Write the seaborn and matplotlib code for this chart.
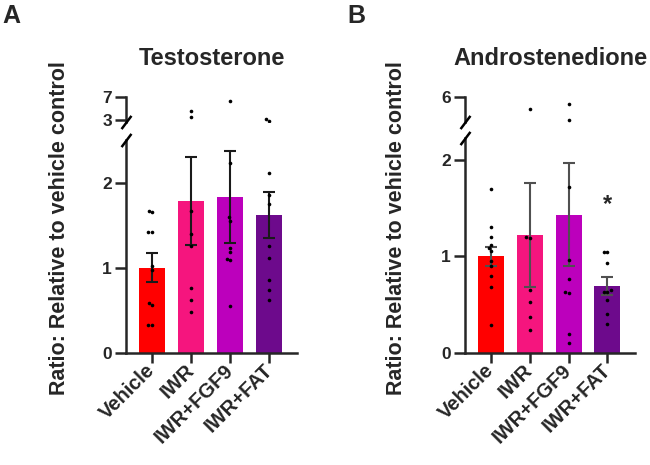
import numpy as np
import pandas as pd
import matplotlib
matplotlib.use("Agg")
import matplotlib.pyplot as plt
import seaborn as sns

# ---------------- data ----------------
groups = ["Vehicle", "IWR", "IWR+FGF9", "IWR+FAT"]
colors = ["#FF0000", "#F5157E", "#BC00BC", "#6D0A8C"]

# Testosterone (individual points, bar means, SEM)
t_vehicle = [1.67, 1.655, 1.415, 1.42, 1.02, 0.97, 0.56, 0.58, 0.32, 0.33]
t_iwr = [4.64, 3.59, 1.67, 1.39, 1.25, 0.76, 0.62, 0.48]
t_fgf9 = [6.41, 2.23, 1.59, 1.55, 1.23, 1.18, 1.10, 1.09, 0.545]
t_fat = [3.23, 2.88, 2.11, 1.85, 1.745, 1.255, 1.11, 0.85, 0.74, 0.62]
t_mean = [1.00, 1.78, 1.83, 1.62]
t_sem = [0.17, 0.52, 0.545, 0.27]

# Androstenedione
a_vehicle = [1.70, 1.305, 1.195, 1.12, 1.08, 1.05, 0.95, 0.90, 0.79, 0.68, 0.29]
a_iwr = [4.52, 1.185, 1.195, 0.65, 0.53, 0.37, 0.24]
a_fgf9 = [5.18, 3.25, 1.72, 0.96, 0.767, 0.615, 0.63, 0.19, 0.097]
a_fat = [1.047, 1.047, 0.933, 0.65, 0.63, 0.63, 0.546, 0.40, 0.30]
a_mean = [1.00, 1.22, 1.43, 0.69]
a_sem = [0.10, 0.54, 0.535, 0.09]
a_sig = ["", "", "", "*"]
a_sig_y = [np.nan, np.nan, np.nan, 1.54]

# ---------------- style ----------------
sns.set_theme(style="ticks")
plt.rcParams["font.family"] = ["Liberation Sans", "DejaVu Sans"]
plt.rcParams["font.weight"] = "bold"
plt.rcParams["axes.labelweight"] = "bold"

W, H = 650, 465
fig = plt.figure(figsize=(W / 100, H / 100), dpi=100)


def fax(x0, x1, y0, y1):
    return fig.add_axes([x0 / W, 1 - y1 / H, (x1 - x0) / W, (y1 - y0) / H])


SPW = 1.8
BREAK = [(-0.75, -1), (0.75, 1)]


def style_axis(ax):
    ax.set_xlim(-0.67, 3.71)
    ax.set_xlabel("")
    ax.set_ylabel("")
    ax.spines["left"].set_linewidth(SPW)
    ax.spines["bottom"].set_linewidth(SPW)
    ax.spines["top"].set_visible(False)
    ax.spines["right"].set_visible(False)
    ax.tick_params(axis="y", length=8, width=SPW, labelsize=12.5, pad=2)


def panel(xl, xr, y_low_top, y_up_bot, y_up_top, low_lim, up_lim, low_ticks,
          up_ticks, pts, means, sems, ecolor, title, letter, letter_x,
          label_x, sig=None, sig_y=None):
    y_base = 352.7
    low = fax(xl, xr, y_low_top, y_base)
    up = fax(xl, xr, y_up_top, y_up_bot)
    df = pd.DataFrame({
        "group": np.repeat(groups, [len(p) for p in pts]),
        "value": np.concatenate(pts),
    })
    bdf = pd.DataFrame({"group": groups, "mean": means, "sem": sems})

    # lower segment: bars, SEM, points
    sns.barplot(data=bdf, x="group", y="mean", hue="group", order=groups,
                hue_order=groups, palette=colors, saturation=1,
                width=0.67, errorbar=None, legend=False, linewidth=0,
                ax=low, zorder=2)
    low.errorbar(groups, means, yerr=sems, fmt="none", ecolor=ecolor,
                 elinewidth=1.5, capsize=4.5, capthick=1.5, zorder=3)
    sns.swarmplot(data=df[df["value"] <= low_lim[1]], x="group", y="value",
                  order=groups, color="black", size=2.6, ax=low, zorder=4)
    # upper segment: only the high points
    sns.swarmplot(data=df[df["value"] >= up_lim[0]], x="group", y="value",
                  order=groups, color="black", size=2.6, ax=up, zorder=4)
    for ax in (low, up):
        style_axis(ax)
    low.set_ylim(*low_lim)
    low.set_yticks(low_ticks)
    low.set_yticklabels([str(t) for t in low_ticks], fontweight="bold")
    up.set_ylim(*up_lim)
    up.set_yticks(up_ticks)
    up.set_yticklabels([str(t) for t in up_ticks], fontweight="bold")
    up.spines["bottom"].set_visible(False)
    up.tick_params(axis="x", bottom=False, labelbottom=False)
    low.tick_params(axis="x", length=7.5, width=SPW, pad=3)
    low.set_xticks(range(len(groups)))
    low.set_xticklabels(groups, rotation=45, ha="right", va="center",
                        rotation_mode="anchor", fontsize=14.5,
                        fontweight="bold")
    # axis break marks
    low.plot([0], [1], transform=low.transAxes, marker=BREAK,
             markersize=9.5, mew=SPW, color="black", clip_on=False, zorder=6)
    up.plot([0], [0], transform=up.transAxes, marker=BREAK,
            markersize=9.5, mew=SPW, color="black", clip_on=False, zorder=6)
    if sig is not None:
        for g, s, yy in zip(groups, sig, sig_y):
            if s:
                low.text(groups.index(g), yy, s, ha="center", va="center",
                         fontsize=17, fontweight="bold")
    # y label across the panel
    low.set_ylabel("Ratio: Relative to vehicle control", fontsize=15.5,
                   fontweight="bold")
    low.yaxis.set_label_coords(label_x, (y_base - 228.5) / (y_base - y_low_top))
    fig.text((xl + xr) / 2 / W, 1 - 65 / H, title, ha="center",
             va="baseline", fontsize=17, fontweight="bold")
    fig.text(letter_x / W, 1 - 4 / H, letter, ha="left", va="top",
             fontsize=18, fontweight="bold")


panel(126, 297, 140, 122, 97.3, (0, 2.5), (2.65, 7.0), [0, 1, 2], [3, 7],
      [t_vehicle, t_iwr, t_fgf9, t_fat], t_mean, t_sem, "#1a1a1a",
      "Testosterone", "A", 2, -0.33)
panel(465, 635, 138, 122, 97.3, (0, 2.225), (3.0, 6.0), [0, 1, 2], [6],
      [a_vehicle, a_iwr, a_fgf9, a_fat], a_mean, a_sem, "#505050",
      "Androstenedione", "B", 347, -0.34, a_sig, a_sig_y)

fig.savefig("out.png", dpi=100)
